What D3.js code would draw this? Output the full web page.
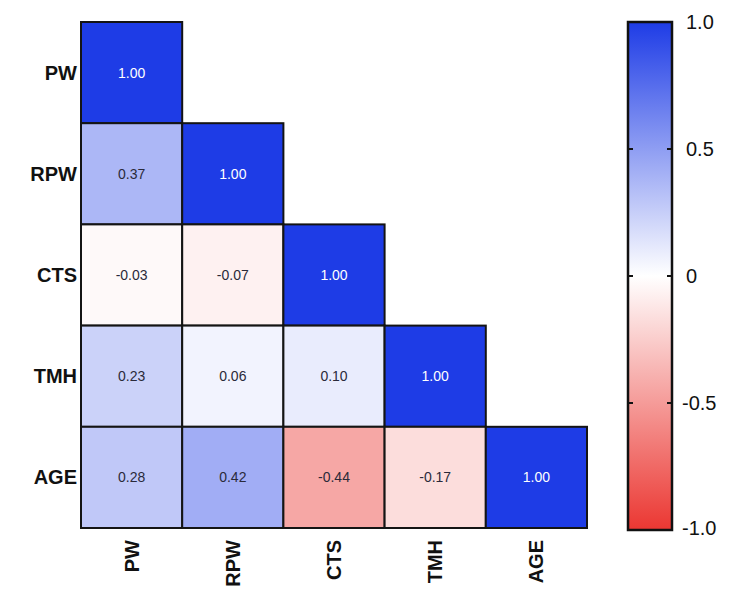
<!DOCTYPE html>
<html>
<head>
<meta charset="utf-8">
<script src="https://cdn.jsdelivr.net/npm/d3@7"></script>
<style>
  body { margin: 0; background: #fff; }
  svg { font-family: "Liberation Sans", Arial, sans-serif; }
</style>
</head>
<body>
<svg id="chart" width="736" height="598"></svg>
<script>
// variables, in row/column order
let vars = ["PW", "RPW", "CTS", "TMH", "AGE"];

// lower triangle of the correlation matrix, one row per variable
let corrPW = [1.0];
let corrRPW = [0.37, 1.0];
let corrCTS = [-0.03, -0.07, 1.0];
let corrTMH = [0.23, 0.06, 0.1, 1.0];
let corrAGE = [0.28, 0.42, -0.44, -0.17, 1.0];

let legendTicks = [1, 0.5, 0, -0.5, -1];
let legendLabels = ["1.0", "0.5", "0", "-0.5", "-1.0"];

let rows = [corrPW, corrRPW, corrCTS, corrTMH, corrAGE];

let cells = [];
rows.forEach((r, i) => {
  r.forEach((v, j) => cells.push({ row: vars[i], col: vars[j], value: v }));
});

let svg = d3.select("#chart");

let grid = { left: 81, top: 22, size: 506 };

let x = d3
  .scaleBand()
  .domain(vars)
  .range([grid.left, grid.left + grid.size]);

let y = d3
  .scaleBand()
  .domain(vars)
  .range([grid.top, grid.top + grid.size]);

let color = d3
  .scaleLinear()
  .domain([-1, 0, 1])
  .range(["#eb3732", "#ffffff", "#1e3ce6"])
  .interpolate(d3.interpolateRgb);

// cells
let cell = svg
  .append("g")
  .selectAll("g")
  .data(cells)
  .enter()
  .append("g");

cell
  .append("rect")
  .attr("x", (d) => x(d.col))
  .attr("y", (d) => y(d.row))
  .attr("width", x.bandwidth())
  .attr("height", y.bandwidth())
  .attr("fill", (d) => color(d.value))
  .attr("stroke", "#141414")
  .attr("stroke-width", 2);

cell
  .append("text")
  .attr("x", (d) => x(d.col) + x.bandwidth() / 2)
  .attr("y", (d) => y(d.row) + y.bandwidth() / 2)
  .attr("dy", "0.35em")
  .attr("text-anchor", "middle")
  .attr("font-size", 14)
  .attr("fill", (d) => (d.value > 0.7 ? "#ffffff" : "#2a2a3a"))
  .text((d) => d.value.toFixed(2));

// row labels
svg
  .append("g")
  .selectAll("text")
  .data(vars)
  .enter()
  .append("text")
  .attr("x", grid.left - 4)
  .attr("y", (d) => y(d) + y.bandwidth() / 2)
  .attr("dy", "0.35em")
  .attr("text-anchor", "end")
  .attr("font-size", 20)
  .attr("font-weight", 700)
  .attr("fill", "#111")
  .text((d) => d);

// column labels
svg
  .append("g")
  .selectAll("text")
  .data(vars)
  .enter()
  .append("text")
  .attr(
    "transform",
    (d) => `translate(${x(d) + x.bandwidth() / 2}, ${grid.top + grid.size + 12}) rotate(-90)`
  )
  .attr("dy", "0.35em")
  .attr("text-anchor", "end")
  .attr("font-size", 20)
  .attr("font-weight", 700)
  .attr("fill", "#111")
  .text((d) => d);

// colour bar
let bar = { x: 628, top: 22, bottom: 530, width: 44 };

let legendY = d3.scaleLinear().domain([1, -1]).range([bar.top, bar.bottom]);

let grad = svg
  .append("defs")
  .append("linearGradient")
  .attr("id", "cbar")
  .attr("x1", 0)
  .attr("y1", 0)
  .attr("x2", 0)
  .attr("y2", 1);

grad
  .selectAll("stop")
  .data(d3.range(0, 1.0001, 0.1))
  .enter()
  .append("stop")
  .attr("offset", (t) => t)
  .attr("stop-color", (t) => color(legendY.invert(bar.top + t * (bar.bottom - bar.top))));

svg
  .append("rect")
  .attr("x", bar.x)
  .attr("y", bar.top)
  .attr("width", bar.width)
  .attr("height", bar.bottom - bar.top)
  .attr("fill", "url(#cbar)")
  .attr("stroke", "#111")
  .attr("stroke-width", 2.5);

let legend = svg.append("g");

legend
  .selectAll("line.l")
  .data(legendTicks.slice(1, -1))
  .enter()
  .append("line")
  .attr("x1", bar.x)
  .attr("x2", bar.x + 5)
  .attr("y1", (d) => legendY(d))
  .attr("y2", (d) => legendY(d))
  .attr("stroke", "#111")
  .attr("stroke-width", 2);

legend
  .selectAll("line.r")
  .data(legendTicks.slice(1, -1))
  .enter()
  .append("line")
  .attr("x1", bar.x + bar.width - 5)
  .attr("x2", bar.x + bar.width)
  .attr("y1", (d) => legendY(d))
  .attr("y2", (d) => legendY(d))
  .attr("stroke", "#111")
  .attr("stroke-width", 2);

legend
  .selectAll("text")
  .data(legendTicks)
  .enter()
  .append("text")
  .attr("x", (d) => (d < 0 ? bar.x + bar.width + 10 : bar.x + bar.width + 14))
  .attr("y", (d) => legendY(d) + (d === 1 ? 0 : d === -1 ? -2 : 0))
  .attr("dy", "0.35em")
  .attr("font-size", 20)
  .attr("fill", "#111")
  .text((d, i) => legendLabels[i]);
</script>
</body>
</html>
